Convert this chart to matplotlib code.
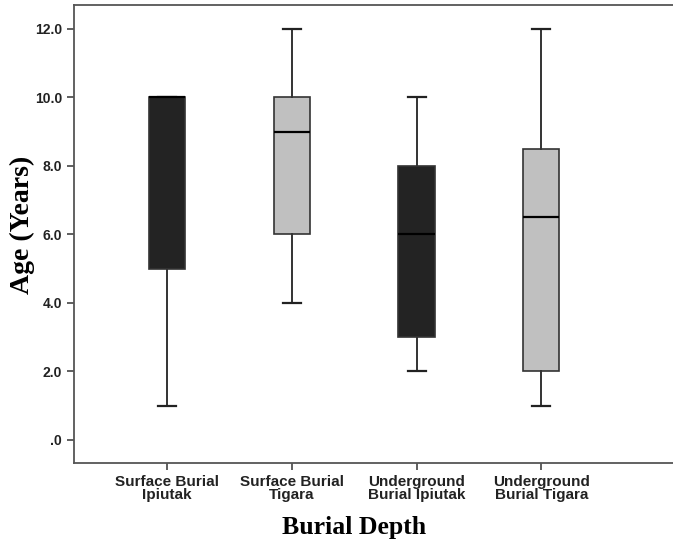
import matplotlib.pyplot as plt
from matplotlib.ticker import FuncFormatter

groups = ['Surface Burial\nIpiutak', 'Surface Burial\nTigara',
          'Underground\nBurial Ipiutak', 'Underground\nBurial Tigara']
whis_lo = [1.0, 4.0, 2.0, 1.0]
q1 = [5.0, 6.0, 3.0, 2.0]
med = [10.0, 9.0, 6.0, 6.5]
q3 = [10.0, 10.0, 8.0, 8.5]
whis_hi = [10.0, 12.0, 10.0, 12.0]
box_colors = ['#232323', '#c0c0c0', '#232323', '#c0c0c0']

stats = []
for i in range(len(groups)):
    stats.append(dict(whislo=whis_lo[i], q1=q1[i], med=med[i], q3=q3[i],
                      whishi=whis_hi[i], fliers=[], label=groups[i]))

fig = plt.figure(figsize=(6.73, 5.53), dpi=100)
# axes runs past the right edge, like the cropped original
ax = fig.add_axes([0.110, 0.163, 0.900, 0.828])

bp = ax.bxp(stats, positions=[1, 2, 3, 4], widths=0.29, patch_artist=True,
            showfliers=False, capwidths=0.145,
            boxprops=dict(edgecolor='#333333', linewidth=1.2),
            medianprops=dict(color='black', linewidth=1.6),
            whiskerprops=dict(color='#333333', linewidth=1.4),
            capprops=dict(color='#222222', linewidth=1.6))
for patch, c in zip(bp['boxes'], box_colors):
    patch.set_facecolor(c)

ax.set_xlim(0.254, 5.11)
ax.set_ylim(-0.67, 12.70)
ax.set_yticks([0, 2, 4, 6, 8, 10, 12])
ax.yaxis.set_major_formatter(FuncFormatter(
    lambda v, p: '.0' if v == 0 else f'{v:.1f}'))

for s in ['left', 'bottom', 'top']:
    ax.spines[s].set_color('#555555')
    ax.spines[s].set_linewidth(1.3)
ax.spines['right'].set_visible(False)

ax.tick_params(axis='both', direction='out', length=5, width=1.2,
               color='#444444', top=False, right=False)
narrow = ['Liberation Sans Narrow', 'Liberation Sans', 'DejaVu Sans']
for lab in ax.get_xticklabels():
    lab.set_family(narrow)
    lab.set_fontweight('bold')
    lab.set_fontsize(11)
    lab.set_linespacing(0.9)
    lab.set_color('#222222')
for lab in ax.get_yticklabels():
    lab.set_family(['Liberation Sans', 'DejaVu Sans'])
    lab.set_fontweight('bold')
    lab.set_fontsize(10)
    lab.set_color('#222222')

serif = ['Liberation Serif', 'DejaVu Serif']
ax.set_xlabel('Burial Depth', family=serif, fontweight='bold', fontsize=18.5,
              labelpad=10)
ax.xaxis.set_label_coords(0.462, -0.115)
ax.set_ylabel('Age (Years)', family=serif, fontweight='bold', fontsize=20)
ax.yaxis.set_label_coords(-0.064, 0.52)

fig.savefig('out.png', dpi=100)
